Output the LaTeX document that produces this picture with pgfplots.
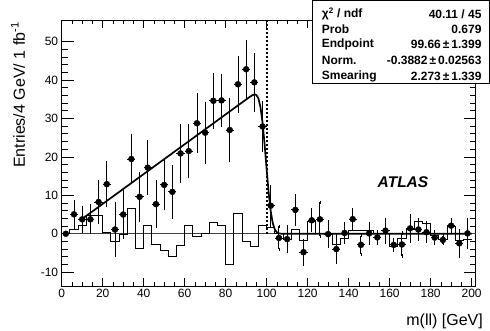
\documentclass[border=0pt]{standalone}
\usepackage{pgfplots}
\usepackage{pgfplotstable}
\pgfplotsset{compat=1.18}
\usepackage{fontspec}
\setmainfont{Liberation Sans}

\pgfplotstableread{
x y ey
2 0 0
6 5.05 3.3
10 3.75 3.1
14 3.75 3.5
18 8.25 5.4
22 12.9 5.5
26 1.1 6.7
30 5.0 6.0
34 19.45 6.2
38 9.6 6.0
42 17.2 6.7
46 7.7 5.9
50 12.7 6.2
54 10.9 6.6
58 20.9 7.3
62 21.5 6.6
66 28.75 7.4
70 26.3 7.7
74 34.6 6.9
78 34.7 6.5
82 27.0 8.0
86 38.9 7.0
90 42.8 7.2
94 39.4 7.2
98 27.9 6.2
102 7.3 5.0
106 -1.1 3.0
110 -1.4 3.2
114 6.2 3.7
118 -4.8 3.1
122 3.5 2.75
126 3.75 4.4
130 -0.1 3.2
134 -4.0 3.5
138 0.2 2.4
142 3.8 2.6
146 -2.9 2.4
150 0.1 2.6
154 -0.95 1.5
158 0.8 3.0
162 -2.9 1.5
166 -2.8 3.0
170 1.4 3.3
174 1.1 2.5
178 0.4 2.4
182 -1.0 1.5
186 -1.6 1.0
190 2.1 1.6
194 -2.5 3.3
198 0.1 3.6
}\datatable

\pgfplotstableread{
x y
0 0
4 1.1
8 2.3
12 4.7
16 4.7
20 0.3
24 -2.1
28 -0.3
32 6.6
36 -3.8
40 2.3
44 -2.8
48 -4.3
52 -5.8
56 -3.1
60 2.1
64 -0.7
68 0
72 2.9
76 2.3
80 -7.9
84 5.3
88 -2.0
92 -3.4
96 2.1
100 1.7
104 0
108 -1.6
112 1.1
116 -1.7
120 3.1
124 0
128 0
132 -2.7
136 -1.3
140 0.9
144 0.9
148 0.9
152 0
156 0
160 -3.3
164 -1.3
168 1.2
172 3.2
176 2.7
180 -0.5
184 -1.4
188 1.9
192 -1.8
196 -1.4
200 -1.4
}\histtable

\pgfplotstableread{
x y
10 3.88
20 7.76
40 15.53
60 23.29
80 31.06
90 34.94
92 35.70
93 36.04
94 36.24
94.5 36.23
95 36.09
96 35.17
97 32.92
98 28.92
99 23.26
100 16.75
101 10.59
102 5.80
103 2.72
104 1.08
105 0.36
106 0.10
107 0.02
108 0
200 0
}\fittable

\begin{document}
\begin{tikzpicture}
\begin{axis}[
  scale only axis, width=414pt, height=265.5pt,
  xmin=0, xmax=202, ymin=-13.6, ymax=55.5,
  xtick={0,20,...,200}, ytick={-10,0,...,50},
  minor x tick num=3, minor y tick num=4,
  tick align=inside,
  xtick style={/pgfplots/major tick length=8pt},
  ytick style={/pgfplots/major tick length=12pt},
  minor x tick style={/pgfplots/minor tick length=4pt},
  minor y tick style={/pgfplots/minor tick length=6pt},
  every tick/.style={black, line width=0.7pt},
  axis line style={line width=0.8pt},
  tick label style={font=\fontsize{12}{14}\selectfont},
  /pgf/number format/assume math mode=true,
]
\addplot[gray!50!black, line width=1.4pt, forget plot] coordinates {(0,0) (202,0)};
\addplot[const plot, black, line width=0.8pt, forget plot] table[x=x,y=y] {\histtable};
\addplot[black, line width=1.7pt, forget plot] table[x=x,y=y] {\fittable};
\addplot[black, line width=2pt, dash pattern=on 2pt off 2pt, forget plot] coordinates {(100,0) (100,55.5)};
\addplot[only marks, mark=none, black, forget plot,
  error bars/.cd, x dir=both, x fixed=2, error mark=none,
  error bar style={line width=0.9pt, black}] table[x=x,y=y] {\datatable};
\addplot[only marks, mark=*, mark size=3pt, black, forget plot,
  error bars/.cd, y dir=both, y explicit, error mark=-,
  error bar style={line width=0.9pt, black},
  error mark options={black, line width=0.8pt, mark size=1.6pt}] table[x=x,y=y,y error=ey] {\datatable};
\end{axis}
% titles
\node[anchor=east, font=\fontsize{16}{18}\selectfont, inner sep=0pt] at (421.3pt,-35pt) {m(ll) [GeV]};
\node[rotate=90, font=\fontsize{16}{18}\selectfont, inner sep=0pt] at (-43.7pt,191pt) {Entries/4 GeV/ 1 fb\textsuperscript{-1}};
\node[font=\fontsize{15.5}{17}\selectfont\bfseries\itshape, inner sep=0pt] at (341.3pt,104pt) {ATLAS};
% stats box
\draw[black, line width=0.8pt, fill=white] (251pt,203pt) rectangle (427.3pt,286pt);
\begin{scope}[every node/.style={inner sep=0pt, font=\fontsize{12}{14}\selectfont\bfseries}]
\node[anchor=west] at (260pt,272pt) {χ\textsuperscript{2} / ndf};
\node[anchor=east] at (420pt,272pt) {40.11 / 45};
\node[anchor=west] at (260pt,256.5pt) {Prob};
\node[anchor=east] at (420pt,256.5pt) {0.679};
\node[anchor=west] at (260pt,241.5pt) {Endpoint};
\node[anchor=east] at (420pt,241.5pt) {99.66\,±\,1.399};
\node[anchor=west] at (260pt,226pt) {Norm.};
\node[anchor=east] at (420pt,226pt) {-0.3882\,±\,0.02563};
\node[anchor=west] at (260pt,210pt) {Smearing};
\node[anchor=east] at (420pt,210pt) {2.273\,±\,1.339};
\end{scope}
\pgfresetboundingbox
\useasboundingbox (-61.7pt,-45pt) rectangle (428.3pt,286pt);
\end{tikzpicture}
\end{document}
